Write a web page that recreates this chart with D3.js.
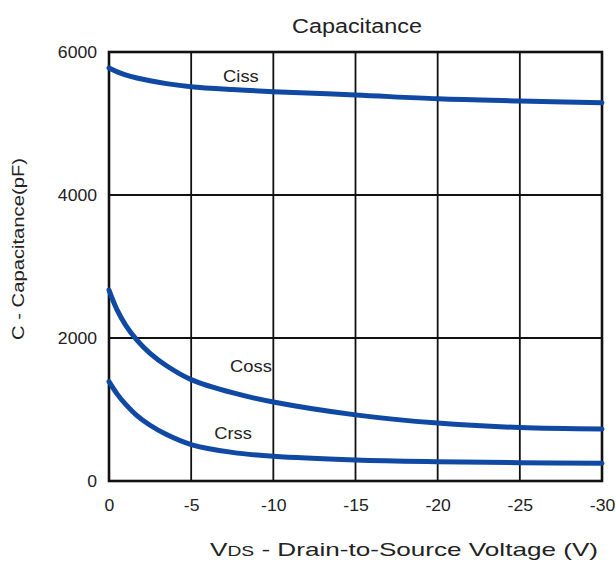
<!DOCTYPE html>
<html>
<head>
<meta charset="utf-8">
<script src="https://cdn.jsdelivr.net/npm/d3@7"></script>
<style>
  html, body { margin: 0; padding: 0; background: #fff; }
  svg { display: block; font-family: "Liberation Sans", Arial, sans-serif; }
</style>
</head>
<body>
<svg id="chart" width="616" height="564"></svg>
<script>
// Drain-to-source voltage samples (V)
const vds = [0, -0.5, -1, -1.7, -2.5, -3.5, -5, -7.5, -10, -15, -20, -25, -30];
// Capacitance curves (pF)
const ciss = [5776, 5722, 5680, 5636, 5597, 5558, 5515, 5475, 5445, 5399, 5345, 5315, 5291];
const coss = [2671, 2390, 2185, 1970, 1785, 1612, 1418, 1235, 1105, 925, 810, 748, 727];
const crss = [1389, 1215, 1075, 915, 780, 650, 510, 400, 345, 294, 270, 256, 248];

const seriesNames = ["Ciss", "Coss", "Crss"];
const seriesValues = [ciss, coss, crss];
// Label anchor points (V, pF) for each curve name
const labelV = [-8.03, -8.64, -7.55];
const labelC = [5585, 1529, 587];

const xTicks = [0, -5, -10, -15, -20, -25, -30];
const yTicks = [0, 2000, 4000, 6000];

const svg = d3.select("#chart");
const plotLeft = 109, plotRight = 602, plotTop = 52, plotBottom = 481;

const x = d3.scaleLinear().domain([0, -30]).range([plotLeft, plotRight]);
const y = d3.scaleLinear().domain([0, 6000]).range([plotBottom, plotTop]);

const textColor = "#222";
const fontFamily = "Liberation Sans, Arial, sans-serif";

// The lettering is slightly wide; stretch glyphs horizontally by a factor
function widen(sel, factor) {
  sel.each(function () {
    const len = this.getComputedTextLength();
    d3.select(this).attr("textLength", len * factor).attr("lengthAdjust", "spacingAndGlyphs");
  });
}

// Grid
svg.append("g").selectAll("line")
  .data(xTicks.slice(1, -1))
  .join("line")
  .attr("x1", d => x(d)).attr("x2", d => x(d))
  .attr("y1", plotTop).attr("y2", plotBottom)
  .attr("stroke", "#111").attr("stroke-width", 1.8);

svg.append("g").selectAll("line")
  .data(yTicks.slice(1, -1))
  .join("line")
  .attr("x1", plotLeft).attr("x2", plotRight)
  .attr("y1", d => y(d)).attr("y2", d => y(d))
  .attr("stroke", "#111").attr("stroke-width", 1.8);

// Frame
svg.append("rect")
  .attr("x", plotLeft).attr("y", plotTop)
  .attr("width", plotRight - plotLeft).attr("height", plotBottom - plotTop)
  .attr("fill", "none").attr("stroke", "#111").attr("stroke-width", 2.6);

// Axes (labels only; the frame draws the lines)
const xAxis = svg.append("g")
  .attr("transform", `translate(0,${plotBottom})`)
  .call(d3.axisBottom(x).tickValues(xTicks).tickSize(0).tickPadding(19).tickFormat(d => String(d)));
xAxis.select(".domain").remove();
xAxis.selectAll("text").attr("font-size", 16).attr("fill", textColor)
  .attr("font-family", fontFamily).call(widen, 1.1);

const yAxis = svg.append("g")
  .attr("transform", `translate(${plotLeft},0)`)
  .call(d3.axisLeft(y).tickValues(yTicks).tickSize(0).tickPadding(12).tickFormat(d => String(d)));
yAxis.select(".domain").remove();
yAxis.selectAll("text").attr("font-size", 16).attr("fill", textColor)
  .attr("font-family", fontFamily).call(widen, 1.1);

// Curves
const line = d3.line()
  .x((d, i) => x(vds[i]))
  .y(d => y(d))
  .curve(d3.curveCatmullRom.alpha(0.5));

svg.append("g").selectAll("path")
  .data(seriesValues)
  .join("path")
  .attr("d", d => line(d))
  .attr("fill", "none")
  .attr("stroke", "#0f49a3")
  .attr("stroke-width", 5)
  .attr("stroke-linecap", "round");

// Curve names
svg.append("g").selectAll("text")
  .data(seriesNames)
  .join("text")
  .attr("x", (d, i) => x(labelV[i]))
  .attr("y", (d, i) => y(labelC[i]))
  .attr("text-anchor", "middle")
  .attr("font-size", 17)
  .attr("fill", textColor)
  .text(d => d)
  .call(widen, 1.08);

// Title
svg.append("text")
  .attr("x", 357).attr("y", 33)
  .attr("text-anchor", "middle")
  .attr("font-size", 19.5)
  .attr("fill", textColor)
  .attr("textLength", 130).attr("lengthAdjust", "spacingAndGlyphs")
  .text("Capacitance");

// X axis title
const xt = svg.append("text")
  .attr("x", 210).attr("y", 556)
  .attr("font-size", 19)
  .attr("fill", textColor)
  .attr("textLength", 388).attr("lengthAdjust", "spacingAndGlyphs");
xt.append("tspan").text("V");
xt.append("tspan").attr("font-size", 14).text("DS");
xt.append("tspan").text(" - Drain-to-Source Voltage (V)");

// Y axis title
svg.append("text")
  .attr("transform", "translate(24,249) rotate(-90)")
  .attr("text-anchor", "middle")
  .attr("font-size", 16.5)
  .attr("fill", textColor)
  .attr("textLength", 182).attr("lengthAdjust", "spacingAndGlyphs")
  .text("C - Capacitance(pF)");
</script>
</body>
</html>
